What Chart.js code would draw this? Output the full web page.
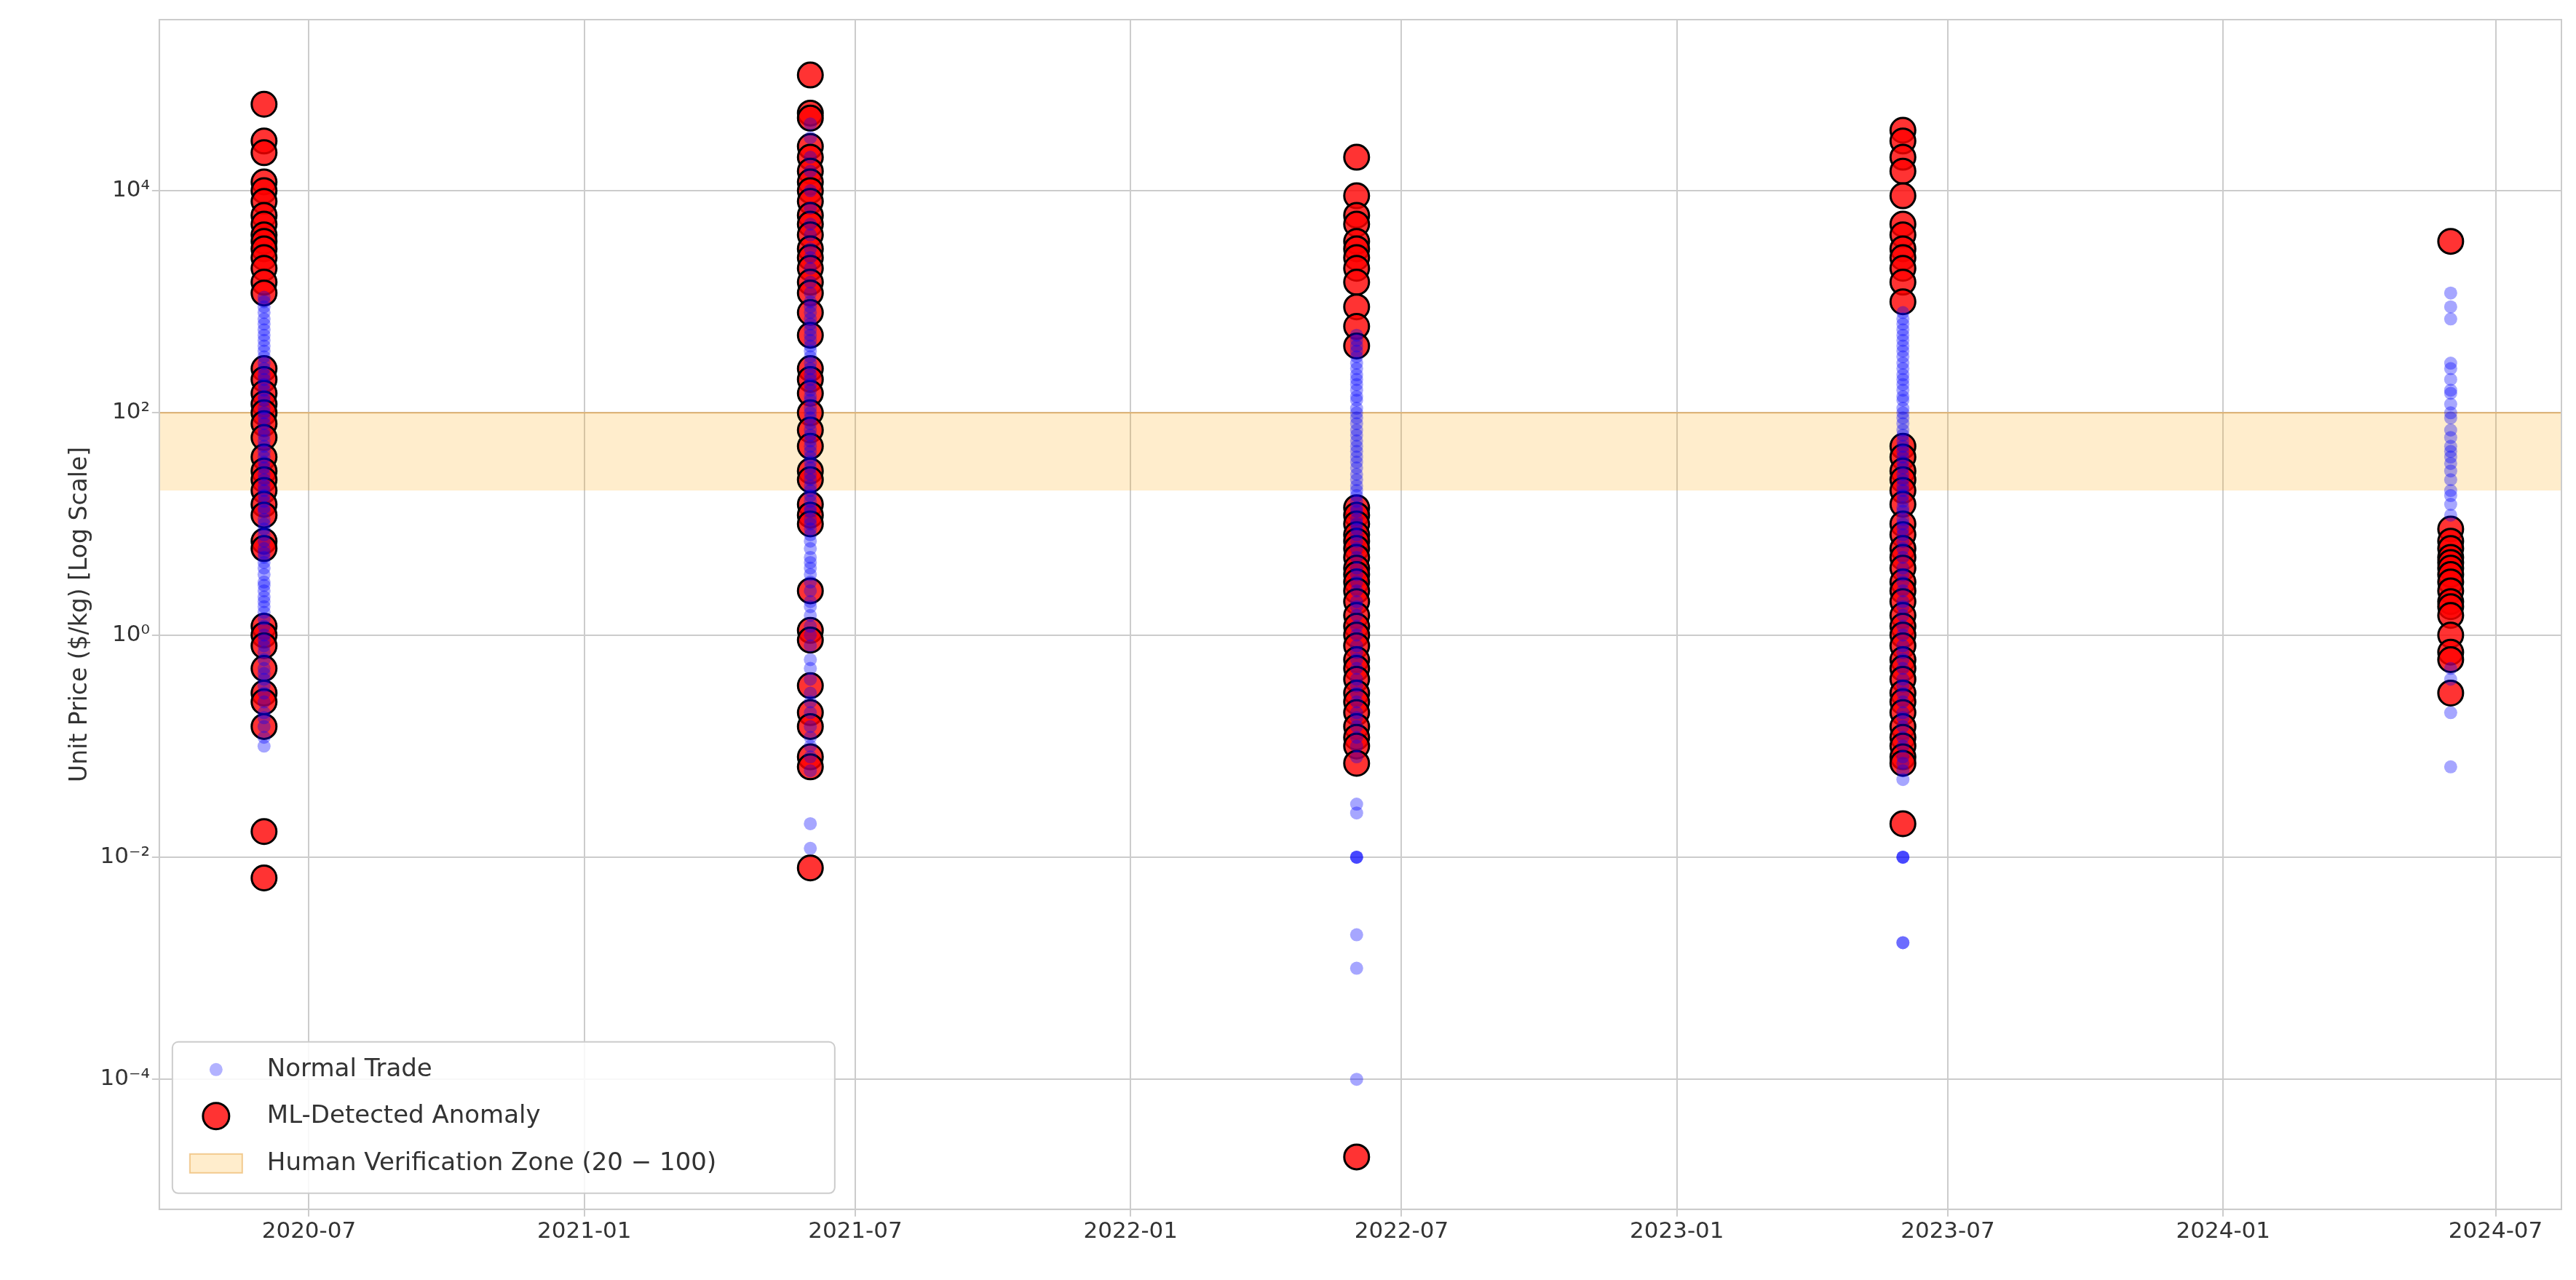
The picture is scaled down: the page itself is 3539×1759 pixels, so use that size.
<!DOCTYPE html>
<html>
<head>
<meta charset="utf-8">
<script src="https://cdn.jsdelivr.net/npm/chart.js@4"></script>
<style>
  html, body { margin: 0; padding: 0; background: #fff; }
  #wrap { width: 3539px; height: 1759px; }
</style>
</head>
<body>
<div id="wrap"><canvas id="chart"></canvas></div>
<script>
// trade dates (one shipment batch per year)
const groupDates = ['2020-06-01', '2021-06-01', '2022-06-01', '2023-06-01', '2024-06-01'];
const xTickLabels = ['2020-07', '2021-01', '2021-07', '2022-01', '2022-07', '2023-01', '2023-07', '2024-01', '2024-07'];
const xMinDate = '2020-03-23';
const xMaxDate = '2024-08-14';
const zoneLow = 20, zoneHigh = 100;

// normal trades, unit price $/kg
const normal2020 = [0.1, 0.12, 0.15, 0.18, 0.2, 0.25, 0.3, 0.35, 0.4, 0.45, 0.5, 0.6, 0.7, 0.8, 0.9, 1, 1.2, 1.4, 1.6, 1.8, 2, 2.2, 2.5, 2.8, 3, 3.5, 4, 4.5, 5, 5.5, 6, 7, 8, 9, 10, 11, 13, 14, 16, 18, 20, 22, 25, 28, 32, 36, 40, 45, 50, 56, 63, 70, 80, 90, 100, 110, 130, 140, 160, 180, 200, 220, 250, 280, 320, 360, 400, 450, 500, 560, 630, 700, 800, 900, 1000, 1100];
const normal2021 = [0.012, 0.02, 0.06, 0.08, 0.1, 0.12, 0.15, 0.2, 0.25, 0.3, 0.4, 0.5, 0.6, 0.8, 1, 1.2, 1.5, 1.8, 2, 2.5, 3, 3.5, 4, 4.5, 5, 6, 7, 8, 9, 10, 11, 13, 14, 16, 18, 20, 22, 25, 28, 32, 36, 40, 45, 50, 56, 63, 70, 80, 90, 100, 110, 130, 140, 160, 180, 200, 220, 250, 280, 320, 360, 400, 450, 500, 560, 630, 700, 800, 900, 1000, 1200, 1500, 2000, 2500, 3000, 4000, 5000, 7000, 10000, 15000, 20000, 30000, 40000];
const normal2022 = [0.0001, 0.001, 0.002, 0.01, 0.01, 0.01, 0.025, 0.03, 0.08, 0.1, 0.12, 0.15, 0.18, 0.2, 0.25, 0.3, 0.35, 0.4, 0.5, 0.6, 0.7, 0.8, 1, 1.2, 1.5, 1.8, 2, 2.5, 3, 3.5, 4, 5, 6, 7, 8, 9, 10, 11, 13, 14, 16, 18, 20, 22, 25, 28, 32, 36, 40, 45, 50, 56, 63, 70, 80, 90, 100, 110, 130, 140, 160, 180, 200, 220, 250, 280, 320, 360, 400, 450, 500];
const normal2023 = [0.0017, 0.0017, 0.01, 0.01, 0.01, 0.05, 0.06, 0.07, 0.08, 0.1, 0.12, 0.15, 0.18, 0.2, 0.25, 0.3, 0.35, 0.4, 0.5, 0.6, 0.7, 0.8, 1, 1.2, 1.5, 1.8, 2, 2.5, 3, 3.5, 4, 5, 6, 7, 8, 9, 10, 11, 13, 14, 16, 18, 20, 22, 25, 28, 32, 36, 40, 45, 50, 56, 63, 70, 80, 90, 100, 110, 130, 140, 160, 180, 200, 220, 250, 280, 320, 360, 400, 450, 500, 560, 630, 700, 800];
const normal2024 = [0.065, 0.2, 0.4, 0.5, 12, 15, 18, 20, 25, 30, 35, 40, 45, 50, 60, 70, 90, 100, 120, 150, 160, 200, 250, 280, 700, 900, 1200];

// ML-detected anomalies
const anomaly2020 = [60000, 28000, 22000, 12000, 10000, 8000, 6000, 5000, 4000, 3500, 3000, 2500, 2000, 1500, 1200, 250, 200, 150, 120, 100, 80, 60, 40, 30, 25, 20, 15, 12, 7, 6, 1.2, 1.0, 0.8, 0.5, 0.3, 0.25, 0.15, 0.017, 0.0065];
const anomaly2021 = [110000, 50000, 45000, 25000, 20000, 15000, 12000, 10000, 8000, 6000, 5000, 4000, 3000, 2500, 2000, 1500, 1200, 800, 500, 250, 200, 150, 100, 70, 50, 30, 25, 15, 12, 10, 2.5, 1.1, 0.9, 0.35, 0.2, 0.15, 0.08, 0.065, 0.008];
const anomaly2022 = [20000, 9000, 6000, 5000, 3500, 3000, 2500, 2000, 1500, 900, 600, 400, 14, 12, 10, 8, 7, 6, 5, 4, 3.5, 3, 2.5, 2, 1.5, 1.2, 1, 0.8, 0.6, 0.5, 0.4, 0.3, 0.25, 0.2, 0.15, 0.12, 0.1, 0.07, 0.00002];
const anomaly2023 = [35000, 28000, 20000, 15000, 9000, 5000, 4000, 3000, 2500, 2000, 1500, 1000, 50, 40, 30, 25, 20, 15, 10, 8, 6, 5, 4, 3, 2.5, 2, 1.5, 1.2, 1, 0.8, 0.6, 0.5, 0.4, 0.3, 0.25, 0.2, 0.15, 0.12, 0.1, 0.08, 0.07, 0.02];
const anomaly2024 = [3500, 9, 7, 6, 5, 4.5, 4, 3.5, 3, 2.5, 2, 1.8, 1.5, 1, 0.7, 0.6, 0.3];

const normalGroups = [normal2020, normal2021, normal2022, normal2023, normal2024];
const anomalyGroups = [anomaly2020, anomaly2021, anomaly2022, anomaly2023, anomaly2024];

const toDay = s => Date.parse(s + 'T00:00:00Z') / 86400000;
const dayToLabel = {};
xTickLabels.forEach(l => { dayToLabel[toDay(l + '-01')] = l; });

function points(groups) {
  const out = [];
  groups.forEach((vals, i) => vals.forEach(v => out.push({ x: toDay(groupDates[i]), y: v })));
  return out;
}

const supers = { '-': '⁻', '0': '⁰', '1': '¹', '2': '²', '3': '³', '4': '⁴', '5': '⁵', '6': '⁶', '7': '⁷', '8': '⁸', '9': '⁹' };
const FONT = 'DejaVu Sans';

const zonePlugin = {
  id: 'zone',
  beforeDatasetsDraw(chart) {
    const { ctx, chartArea, scales } = chart;
    const yTop = scales.y.getPixelForValue(zoneHigh);
    const yBot = scales.y.getPixelForValue(zoneLow);
    ctx.save();
    ctx.fillStyle = 'rgba(255,165,0,0.2)';
    ctx.fillRect(chartArea.left, yTop, chartArea.right - chartArea.left, yBot - yTop);
    ctx.strokeStyle = 'rgba(230,160,60,0.6)';
    ctx.lineWidth = 2;
    ctx.beginPath();
    ctx.moveTo(chartArea.left, yTop); ctx.lineTo(chartArea.right, yTop);
    ctx.stroke();
    // frame
    ctx.strokeStyle = '#cccccc';
    ctx.strokeRect(chartArea.left, chartArea.top, chartArea.right - chartArea.left, chartArea.bottom - chartArea.top);
    ctx.restore();
  }
};

const legendPlugin = {
  id: 'boxLegend',
  afterDraw(chart) {
    const { ctx, chartArea } = chart;
    const x = chartArea.left + 18, h = 208, w = 910;
    const y = chartArea.bottom - 22 - h;
    ctx.save();
    ctx.fillStyle = 'rgba(255,255,255,0.85)';
    ctx.strokeStyle = '#cccccc';
    ctx.lineWidth = 2;
    ctx.beginPath();
    ctx.roundRect(x, y, w, h, 8);
    ctx.fill(); ctx.stroke();
    ctx.font = '34px ' + FONT;
    ctx.textBaseline = 'middle';
    const cx = x + 60;
    ctx.beginPath(); ctx.arc(cx, y + 38, 9, 0, Math.PI * 2);
    ctx.fillStyle = 'rgba(0,0,255,0.3)'; ctx.fill();
    ctx.beginPath(); ctx.arc(cx, y + 102, 18, 0, Math.PI * 2);
    ctx.fillStyle = 'rgba(255,0,0,0.8)'; ctx.fill();
    ctx.strokeStyle = '#000'; ctx.lineWidth = 3; ctx.stroke();
    ctx.fillStyle = 'rgba(255,165,0,0.2)';
    ctx.fillRect(cx - 36, y + 154, 72, 26);
    ctx.strokeStyle = 'rgba(230,160,60,0.5)'; ctx.lineWidth = 2;
    ctx.strokeRect(cx - 36, y + 154, 72, 26);
    ctx.fillStyle = '#333';
    ctx.fillText('Normal Trade', x + 130, y + 38);
    ctx.fillText('ML-Detected Anomaly', x + 130, y + 102);
    ctx.fillText('Human Verification Zone (20 − 100)', x + 130, y + 167);
    ctx.restore();
  }
};

new Chart(document.getElementById('chart'), {
  type: 'scatter',
  data: {
    datasets: [
      {
        label: 'Normal Trade',
        data: points(normalGroups),
        backgroundColor: 'rgba(0,0,255,0.35)',
        borderWidth: 0,
        pointRadius: 9
      },
      {
        label: 'ML-Detected Anomaly',
        data: points(anomalyGroups),
        backgroundColor: 'rgba(255,0,0,0.8)',
        borderColor: '#000',
        borderWidth: 3,
        pointRadius: 17
      }
    ]
  },
  plugins: [zonePlugin, legendPlugin],
  options: {
    responsive: true,
    maintainAspectRatio: false,
    animation: false,
    layout: { padding: { top: 27, right: 20, left: 87, bottom: 44 } },
    plugins: { legend: { display: false }, tooltip: { enabled: false } },
    scales: {
      x: {
        type: 'linear',
        min: toDay(xMinDate),
        max: toDay(xMaxDate),
        afterBuildTicks(scale) {
          scale.ticks = xTickLabels.map(l => ({ value: toDay(l + '-01') }));
        },
        ticks: {
          font: { family: FONT, size: 31 }, color: '#333',
          autoSkip: false, maxRotation: 0,
          callback: v => dayToLabel[v] || ''
        },
        grid: { color: '#cccccc', lineWidth: 2, tickLength: 10 },
        border: { color: '#cccccc', width: 2 }
      },
      y: {
        type: 'logarithmic',
        min: Math.pow(10, -5.17),
        max: Math.pow(10, 5.54),
        afterBuildTicks(scale) {
          scale.ticks = [-4, -2, 0, 2, 4].map(e => ({ value: Math.pow(10, e) }));
        },
        ticks: {
          font: { family: FONT, size: 31 }, color: '#333',
          callback: v => {
            const e = Math.round(Math.log10(v));
            return '10' + String(e).split('').map(c => supers[c]).join('');
          }
        },
        title: { display: true, text: 'Unit Price ($/kg) [Log Scale]', font: { family: FONT, size: 33 }, color: '#333' },
        grid: { color: '#cccccc', lineWidth: 2, tickLength: 10 },
        border: { color: '#cccccc', width: 2 }
      }
    }
  }
});
</script>
</body>
</html>
